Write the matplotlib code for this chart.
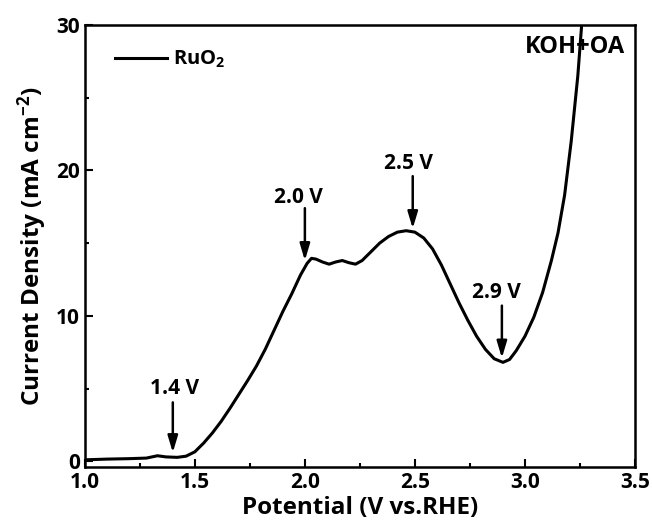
import numpy as np
import matplotlib
matplotlib.use("Agg")
import matplotlib.pyplot as plt

plt.rcParams['font.family'] = ['Open Sans', 'DejaVu Sans']
plt.rcParams['font.weight'] = 'bold'
plt.rcParams['mathtext.fontset'] = 'custom'
plt.rcParams['mathtext.rm'] = 'Open Sans:bold'
plt.rcParams['mathtext.default'] = 'regular'

# RuO2 polarization curve
potential = [1.00, 1.10, 1.20, 1.28, 1.33, 1.37, 1.42, 1.46, 1.50, 1.54,
             1.58, 1.62, 1.66, 1.70, 1.74, 1.78, 1.82, 1.86, 1.90, 1.94,
             1.98, 2.01, 2.03, 2.05, 2.08, 2.11, 2.14, 2.17, 2.20, 2.23,
             2.26, 2.30, 2.34, 2.38, 2.42, 2.46, 2.50, 2.54, 2.58, 2.62,
             2.66, 2.70, 2.74, 2.78, 2.82, 2.86, 2.90, 2.93, 2.96, 3.00,
             3.04, 3.08, 3.12, 3.15, 3.18, 3.21, 3.24, 3.26]
current = [0.10, 0.15, 0.18, 0.22, 0.38, 0.30, 0.27, 0.35, 0.65, 1.25,
           1.95, 2.75, 3.65, 4.60, 5.55, 6.55, 7.70, 9.00, 10.3, 11.5,
           12.8, 13.6, 13.95, 13.9, 13.7, 13.55, 13.7, 13.8, 13.65, 13.55,
           13.8, 14.4, 15.0, 15.45, 15.75, 15.85, 15.75, 15.35, 14.6, 13.5,
           12.2, 10.9, 9.7, 8.6, 7.7, 7.05, 6.8, 7.0, 7.6, 8.6,
           9.9, 11.6, 13.8, 15.7, 18.3, 22.0, 26.5, 30.5]

# arrow markers
mark_labels = ['1.4 V', '2.0 V', '2.5 V', '2.9 V']
mark_x = [1.40, 2.00, 2.49, 2.895]
arrow_top = [4.05, 17.4, 19.6, 10.7]
arrow_tip = [0.6, 13.8, 16.0, 7.1]
label_x = [1.41, 1.97, 2.47, 2.87]
label_y = [5.0, 18.1, 20.5, 11.6]

fig, ax = plt.subplots(figsize=(6.52, 5.29), dpi=100)
fig.subplots_adjust(left=0.130, right=0.974, bottom=0.117, top=0.953)

ax.plot(potential, current, color='black', lw=2.2, label='RuO$_2$')

for lab, x, t0, t1, lx, ly in zip(mark_labels, mark_x, arrow_top, arrow_tip, label_x, label_y):
    ax.annotate('', xy=(x, t1), xytext=(x, t0),
                arrowprops=dict(arrowstyle='-|>,head_length=1.0,head_width=0.3',
                                color='black', lw=1.8, shrinkA=0, shrinkB=0))
    ax.text(lx, ly, lab, ha='center', va='center', fontsize=15, fontweight='bold')

ax.text(3.455, 28.5, 'KOH+OA', ha='right', va='center', fontsize=17, fontweight='bold')

ax.set_xlim(1.0, 3.5)
ax.set_ylim(-0.4, 30)
ax.set_xticks([1.0, 1.5, 2.0, 2.5, 3.0, 3.5])
ax.set_xticks(np.arange(1.25, 3.5, 0.5), minor=True)
ax.set_yticks([0, 10, 20, 30])
ax.set_yticks([5, 15, 25], minor=True)
ax.tick_params(which='both', direction='in', width=1.5, labelsize=15)
ax.tick_params(which='major', length=6)
ax.tick_params(which='minor', length=3)
for s in ax.spines.values():
    s.set_linewidth(1.8)

ax.set_xlabel('Potential (V vs.RHE)', fontsize=17.5, fontweight='bold', labelpad=2)
ax.set_ylabel('Current Density (mA cm$^{-2}$)', fontsize=17.5, fontweight='bold', labelpad=5)

ax.legend(loc='center left', frameon=False, fontsize=14.5, handlelength=2.6,
          bbox_to_anchor=(0.0545, 0.921), handletextpad=0.3,
          borderpad=0, borderaxespad=0)

fig.savefig('out.png', dpi=100)
